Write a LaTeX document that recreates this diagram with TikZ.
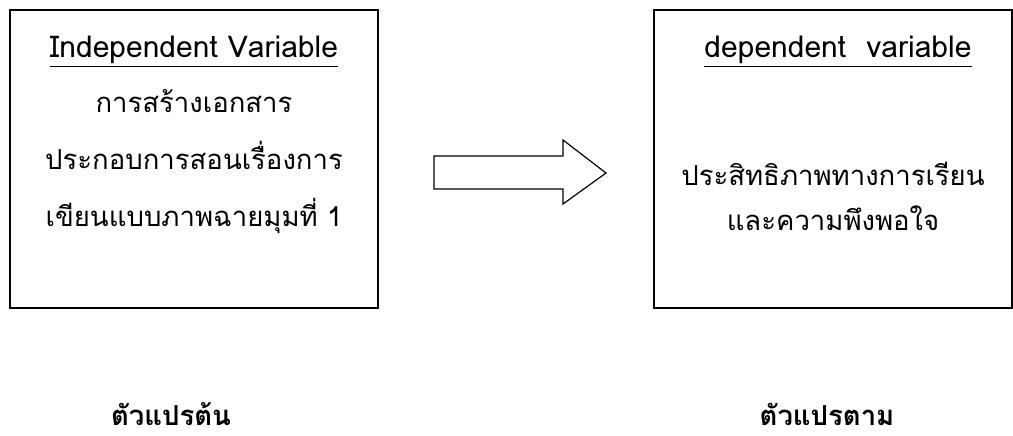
\documentclass[tikz,border=0pt]{standalone}
\usepackage{fontspec}
\newfontfamily\thaifont[Script=Thai]{Loma}
\begin{document}
\begin{tikzpicture}[x=1pt,y=-1pt,
  box/.style={draw=black,line width=1.3pt},
  head/.style={font=\thaifont\fontsize{30}{34}\selectfont,inner sep=0pt,anchor=base},
  txt/.style={font=\thaifont\fontsize{27.5}{32}\selectfont,inner sep=0pt,anchor=base},
  lbl/.style={font=\thaifont\bfseries\fontsize{27.5}{32}\selectfont,inner sep=0pt,anchor=base}]
\useasboundingbox (0,0) rectangle (1013,436);
\draw[box] (10,10) rectangle (378,308) coordinate (lbox);
\draw[box] (654,10) rectangle (1012,308) coordinate (rbox);
% left box text
\node[head] (lh) at (194,58) {Independent Variable};
\draw[line width=1pt] ([yshift=-9pt]lh.base west) -- ([yshift=-9pt]lh.base east);
\node[txt] (l1) at (194,113) {การสร้างเอกสาร};
\node[txt] (l2) at (194,169) {ประกอบการสอนเรื่องการ};
\node[txt] (l3) at (194,226) {เขียนแบบภาพฉายมุมที่ 1};
% right box text
\node[head] (rh) at (838,58) {dependent\ \ variable};
\draw[line width=1pt] ([yshift=-9pt]rh.base west) -- ([yshift=-9pt]rh.base east);
\node[txt] (r1) at (833,185) {ประสิทธิภาพทางการเรียน};
\node[txt] (r2) at (833,230) {และความพึงพอใจ};
% arrow
\draw[line width=1.2pt,line join=miter] (434,156) -- (563,156) -- (563,140) -- (606,173) -- (563,204) -- (563,189) -- (434,189) -- cycle;
% bottom labels
\node[lbl] (bl) at (171,425) {ตัวแปรต้น};
\node[lbl] (br) at (827,425) {ตัวแปรตาม};
\end{tikzpicture}
\end{document}
